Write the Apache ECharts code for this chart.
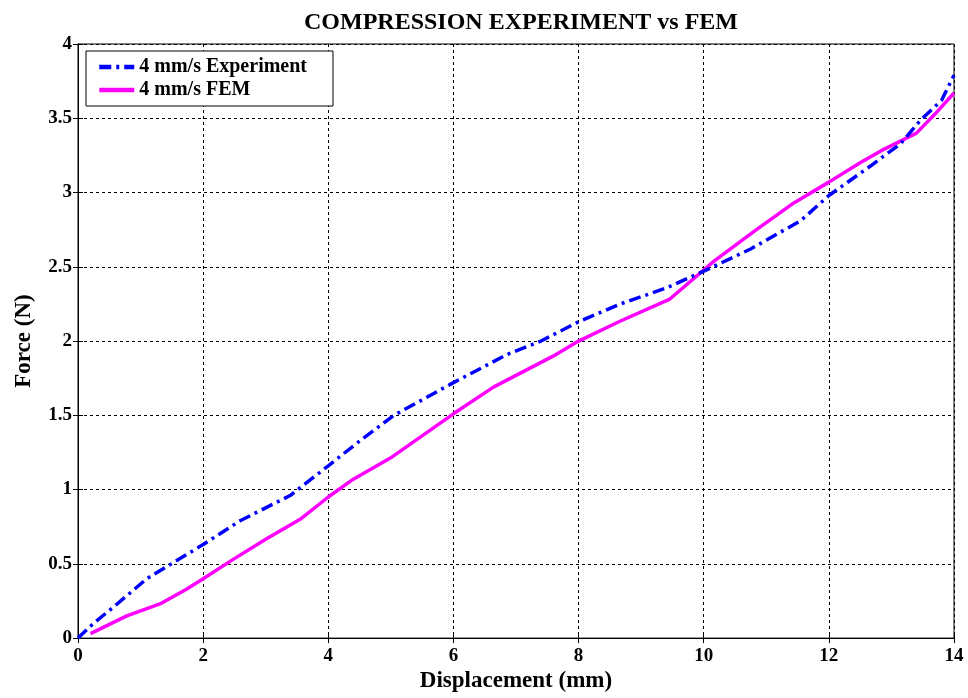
<!DOCTYPE html>
<html>
<head>
<meta charset="utf-8">
<script src="https://cdn.jsdelivr.net/npm/echarts@6/dist/echarts.min.js"></script>
<style>html,body{margin:0;padding:0;background:#fff}#c{width:968px;height:698px}</style>
</head>
<body>
<div id="c"></div>
<script>
const titleText = 'COMPRESSION EXPERIMENT vs FEM';
const xName = 'Displacement (mm)';
const yName = 'Force (N)';
const expName = '4 mm/s Experiment';
const femName = '4 mm/s FEM';
const expX = [0, 0.25, 0.57, 1.1, 2.0, 2.59, 3.39, 4.0, 4.51, 5.05, 6.0, 6.86, 7.4, 8.0, 8.67, 9.42, 10.1, 10.75, 11.55, 12.0, 12.67, 13.15, 13.47, 13.8, 14.0];
const expY = [0, 0.10, 0.21, 0.40, 0.63, 0.79, 0.96, 1.16, 1.33, 1.50, 1.72, 1.91, 2.0, 2.13, 2.25, 2.36, 2.49, 2.62, 2.81, 2.98, 3.18, 3.33, 3.49, 3.62, 3.79];
const femX = [0.2, 0.78, 1.31, 1.74, 2.0, 2.48, 3.02, 3.55, 4.0, 4.4, 5.02, 6.0, 6.64, 7.6, 8.0, 8.67, 9.45, 10.17, 10.81, 11.44, 12.0, 12.5, 12.83, 13.4, 13.7, 14.0];
const femY = [0.03, 0.15, 0.23, 0.33, 0.40, 0.53, 0.67, 0.80, 0.95, 1.07, 1.22, 1.51, 1.69, 1.90, 2.0, 2.135, 2.28, 2.54, 2.74, 2.93, 3.07, 3.2, 3.28, 3.40, 3.53, 3.67];

const FONT = 'Liberation Serif';
const chart = echarts.init(document.getElementById('c'), null, {renderer: 'canvas'});
const tickStyle = {show: true, inside: true, length: 5, lineStyle: {color: '#000', width: 1}};
const labelStyle = {color: '#000', fontFamily: FONT, fontWeight: 'bold', fontSize: 19};
chart.setOption({
  animation: false,
  backgroundColor: '#fff',
  title: {
    text: titleText, left: 516, top: 6, textAlign: 'center',
    textStyle: {fontFamily: FONT, fontWeight: 'bold', fontSize: 24, color: '#000'}
  },
  legend: {
    orient: 'vertical', left: 86, top: 51,
    backgroundColor: '#fff', borderColor: '#000', borderWidth: 1,
    padding: [6, 26, 6, 11], itemGap: 3, itemWidth: 35, itemHeight: 14,
    itemStyle: {opacity: 0},
    lineStyle: {width: 4.5},
    textStyle: {fontFamily: FONT, fontWeight: 'bold', fontSize: 20, color: '#000'},
    data: [expName, femName]
  },
  grid: {left: 78, right: 14, top: 44, bottom: 59, show: true, borderColor: '#000', borderWidth: 1},
  xAxis: [{
    type: 'value', min: 0, max: 14, interval: 2,
    name: xName, nameLocation: 'middle', nameGap: 27,
    nameTextStyle: {fontFamily: FONT, fontWeight: 'bold', fontSize: 23, color: '#000'},
    axisLine: {show: true, lineStyle: {color: '#000', width: 1}},
    axisTick: tickStyle,
    axisLabel: Object.assign({margin: 8}, labelStyle),
    splitLine: {show: true, lineStyle: {color: '#000', width: 1, type: [3, 3]}}
  }, {
    type: 'value', min: 0, max: 14, interval: 2, position: 'top',
    axisLine: {show: true, lineStyle: {color: '#000'}}, axisTick: tickStyle,
    axisLabel: {show: false}, splitLine: {show: false}
  }],
  yAxis: [{
    type: 'value', min: 0, max: 4, interval: 0.5,
    name: yName, nameLocation: 'middle', nameGap: 42,
    nameTextStyle: {fontFamily: FONT, fontWeight: 'bold', fontSize: 23, color: '#000'},
    axisLine: {show: true, lineStyle: {color: '#000', width: 1}},
    axisTick: tickStyle,
    axisLabel: Object.assign({margin: 6}, labelStyle),
    splitLine: {show: true, lineStyle: {color: '#000', width: 1, type: [3, 3]}}
  }, {
    type: 'value', min: 0, max: 4, interval: 0.5, position: 'right',
    axisLine: {show: true, lineStyle: {color: '#000'}}, axisTick: tickStyle,
    axisLabel: {show: false}, splitLine: {show: false}
  }],
  series: [{
    name: expName, type: 'line', symbol: 'none', z: 3,
    data: expX.map((x, i) => [x, expY[i]]),
    itemStyle: {color: '#0000ff'},
    lineStyle: {color: '#0000ff', width: 3.5, type: [12, 5, 3, 5]}
  }, {
    name: femName, type: 'line', symbol: 'none', z: 2,
    data: femX.map((x, i) => [x, femY[i]]),
    itemStyle: {color: '#ff00ff'},
    lineStyle: {color: '#ff00ff', width: 3.5}
  }]
});
</script>
</body>
</html>
